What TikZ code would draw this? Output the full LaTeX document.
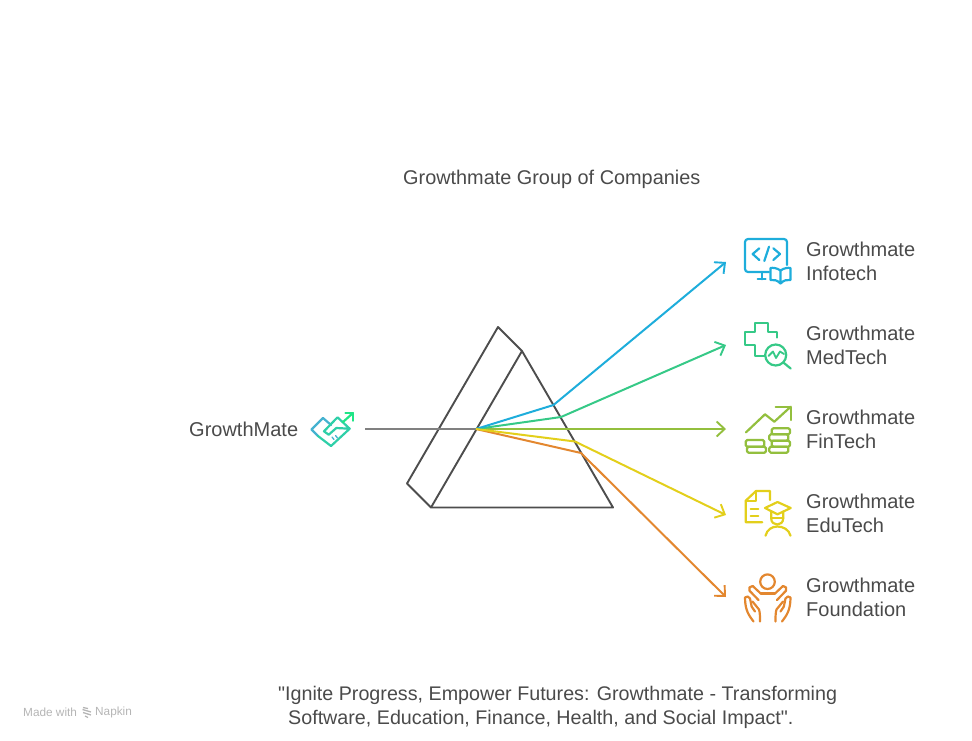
\documentclass[tikz,border=0pt]{standalone}
\usepackage{fontspec}
\setmainfont{Liberation Sans}
\newfontfamily\plainquote{Liberation Sans}
\usetikzlibrary{arrows.meta}
\definecolor{cblue}{HTML}{1EADDB}
\definecolor{cgreen}{HTML}{36C987}
\definecolor{clime}{HTML}{93BF3E}
\definecolor{cyellow}{HTML}{E3CF1B}
\definecolor{corange}{HTML}{E3872F}
\definecolor{ctext}{HTML}{4A4A4A}
\definecolor{cprism}{HTML}{4D4D4D}
\definecolor{cbeam}{HTML}{808080}
\definecolor{cmark}{HTML}{B5B5B5}
\definecolor{hblue}{HTML}{45B2D0}
\definecolor{hmid}{HTML}{2FCFA8}
\definecolor{hgreen}{HTML}{1FE586}
\tikzset{
  txtlabel/.style={text=ctext,font=\fontsize{20}{24}\selectfont,anchor=west,align=left,inner sep=0pt},
  ray/.style={line width=2pt,line join=round,-{Straight Barb[length=8pt,width=15pt,line width=1.9pt]}},
  icon/.style={line width=2.2pt,line join=round,line cap=round},
  prism/.style={cprism,line width=1.9pt,line join=round},
  wmark/.style={text=cmark,font=\fontsize{11.8}{13}\selectfont,anchor=west,inner sep=0pt}
}
\begin{document}
\begin{tikzpicture}[x=1pt,y=-1pt]
\useasboundingbox (0,0) rectangle (972,740);
% prism
\coordinate (pa) at (498,327);
\coordinate (pb) at (522,351);
\coordinate (pc) at (613,507.5);
\coordinate (pd) at (431,507.5);
\coordinate (pe) at (407,483.5);
\draw[prism] (pa) -- (pb) -- (pc) -- (pd) -- (pe) -- cycle;
\draw[prism] (pb) -- (pd);
% rays
\coordinate (src) at (365,429);
\coordinate (hit) at (476,429);
\coordinate (kblue) at (553.5,405);
\coordinate (kgreen) at (561,417);
\coordinate (kyellow) at (575,441.5);
\coordinate (korange) at (581,453);
\coordinate (eblue) at (726,262);
\coordinate (egreen) at (726,345);
\coordinate (elime) at (726,429);
\coordinate (eyellow) at (726,515);
\coordinate (eorange) at (726,597);
\draw[cbeam,line width=2pt] (src) -- (hit);
\draw[ray,clime] (hit) -- (elime);
\draw[ray,cgreen] (hit) -- (kgreen) -- (egreen);
\draw[ray,cblue] (hit) -- (kblue) -- (eblue);
\draw[ray,corange] (hit) -- (korange) -- (eorange);
\draw[ray,cyellow] (hit) -- (kyellow) -- (eyellow);
% labels
\node[txtlabel,font=\fontsize{19.87}{24}\selectfont] (title) at (403,179) {Growthmate Group of Companies};
\node[txtlabel] (input) at (189,429) {GrowthMate};
\node[txtlabel] (l1) at (806,261) {Growthmate\\Infotech};
\node[txtlabel] (l2) at (806,345) {Growthmate\\MedTech};
\node[txtlabel] (l3) at (806,429) {Growthmate\\FinTech};
\node[txtlabel] (l4) at (806,513) {Growthmate\\EduTech};
\node[txtlabel] (l5) at (806,597) {Growthmate\\Foundation};
\node[txtlabel,font=\plainquote\fontsize{19.7}{24}\selectfont] (slogan) at (278,707) {"Ignite Progress, Empower Futures: Growthmate - Transforming\\\hspace*{10pt}Software, Education, Finance, Health, and Social Impact".};
% handshake icon
\begin{scope}[icon]
\draw[hblue] (331,425) -- (323,418) -- (311.5,429.5) -- (318,436);
\draw[hmid] (318,436) -- (331,446);
\draw[hmid] (331,446) -- (349.7,428.7) -- (337.5,417.3) -- (324,431.3) -- (328.7,434.7) -- (336.3,428) -- (349.7,428.7);
\draw[hblue,line width=1.3pt] (332,437) -- (334,439.5) (335.5,435.5) -- (337.5,438);
\draw[hgreen] (343,422) -- (353,413);
\draw[hgreen] (345.5,413) -- (353,413) -- (353,420.7);
\end{scope}
% infotech icon
\begin{scope}[icon,cblue]
\draw[rounded corners=3pt] (769,272) -- (745,272) -- (745,239) -- (787,239) -- (787,265);
\draw (761.7,272) -- (761.7,279.3) (757.7,279.3) -- (765.5,279.3);
\draw (759.3,248.3) -- (752.7,254) -- (759.3,260);
\draw (773.3,248.3) -- (780,254) -- (773.3,260);
\draw (769,246.7) -- (764.3,261);
\draw (780.5,270.5) .. controls (777,268) and (773,267.5) .. (770.5,268) -- (770.5,280) .. controls (774,279.5) and (777,280) .. (780.5,283.5) .. controls (784,280) and (787,279.5) .. (790.5,280) -- (790.5,268) .. controls (788,267.5) and (784,268) .. (780.5,270.5) -- (780.5,283.5);
\end{scope}
% medtech icon
\begin{scope}[icon,cgreen]
\draw (777.3,337.5) -- (777.3,332) -- (767.7,332) -- (767.7,322.7) -- (755,322.7) -- (755,332) -- (745.3,332) -- (745.3,345) -- (755,345) -- (755,356) -- (764.5,356);
\draw (775.7,355) circle[radius=10.5];
\draw (783.3,362.5) -- (790.7,368.5);
\draw[line width=1.8pt] (768.5,356) -- (773,351.5) -- (776,358) -- (780,351.5) -- (784,354);
\end{scope}
% fintech icon
\begin{scope}[icon,clime]
\draw (746,432.3) -- (765,414.3) -- (774.3,421.7) -- (790.7,406.7);
\draw (775.7,406.7) -- (790.7,406.7) -- (790.7,420);
\foreach \xa/\ya/\xb/\yb in {745.7/440/764.3/446.7,747/446.7/766/452.7,771.7/428.3/790/434.3,769.3/434.3/788.3/440.7,771.7/440.7/790/446.7,769.3/446.7/788.3/452.7}
  \draw[rounded corners=1.5pt] (\xa,\ya) rectangle (\xb,\yb);
\end{scope}
% edutech icon
\begin{scope}[icon,cyellow]
\draw (762.3,522.3) -- (745.7,522.3) -- (745.7,500.7) -- (756,491) -- (770,491) -- (770,500);
\draw (745.7,500.7) -- (756,500.7) -- (756,491);
\draw (750.7,509.3) -- (758.3,509.3) (750.7,516) -- (758.3,516);
\draw (765,508) -- (777.5,502) -- (790.7,508) -- (777.5,514.3) -- cycle;
\draw (771.2,511.5) -- (771.2,518.5) .. controls (771.2,526.5) and (783.2,526.5) .. (783.2,518.5) -- (783.2,511.5);
\draw (771.2,518) -- (783.2,518);
\draw (765.5,535.7) .. controls (767,529.5) and (772,526.5) .. (777.5,526.5) .. controls (783,526.5) and (789,529.5) .. (790.5,535.7);
\end{scope}
% foundation icon
\begin{scope}[icon,corange]
\draw (767.5,581.7) circle[radius=7.3];
\draw (760.7,593.5) -- (775,593.5);
\draw (760.7,593.5) -- (752.7,586) .. controls (750,585.5) and (748,588.5) .. (749.5,590.7) -- (758.5,600);
\draw (775,593.5) -- (783,586) .. controls (785.5,585.5) and (787.5,588.5) .. (786,590.7) -- (777,600);
\draw (753.5,621.5) .. controls (749.5,616) and (745,611) .. (745,597.5) .. controls (746,596) and (749.5,596) .. (750,598.5) -- (751.7,606.7);
\draw (752.5,601.5) -- (759,609.5) .. controls (760,612.5) and (760,617) .. (760,621.5) (751.7,606.7) -- (755,611.5);
\draw (782,621.5) .. controls (786,616) and (790.5,611) .. (790.5,597.5) .. controls (789.5,596) and (786,596) .. (785.5,598.5) -- (783.8,606.7);
\draw (783,601.5) -- (776.5,609.5) .. controls (775.5,612.5) and (775.5,617) .. (775.5,621.5) (783.8,606.7) -- (780.5,611.5);
\end{scope}
% watermark
\node[wmark] (made) at (23,712.5) {Made with};
\node[wmark] (nap) at (95,712.5) {Napkin};
\draw[cmark,line width=1.3pt] (83,707.5) -- (88,708.5) (82.5,709.5) -- (91,712) (83,712.5) -- (91,715) (85,716) -- (88,717.5);
\end{tikzpicture}
\end{document}
